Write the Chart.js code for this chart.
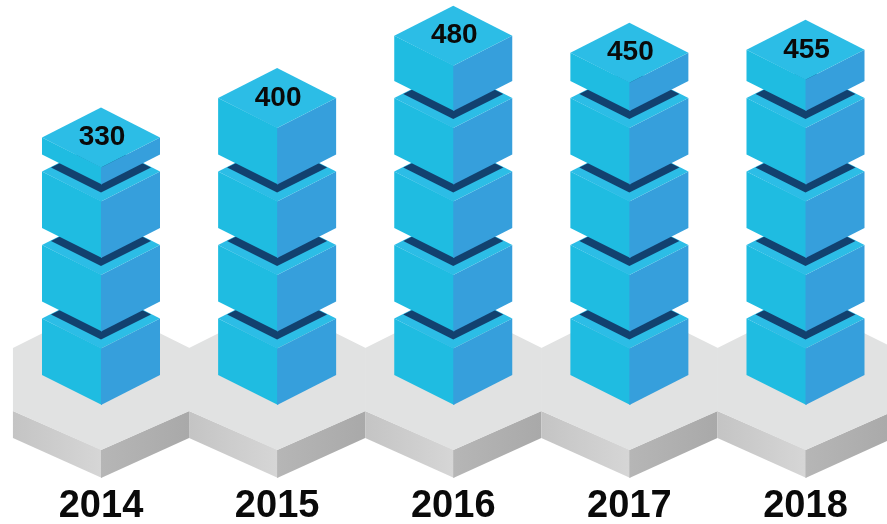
<!DOCTYPE html>
<html>
<head>
<meta charset="utf-8">
<title>Isometric towers</title>
<script src="https://cdn.jsdelivr.net/npm/chart.js@4"></script>
<style>
  html, body { margin: 0; padding: 0; background: #fff; overflow: hidden; }
  #towerChart { display: block; }
</style>
</head>
<body>
<canvas id="towerChart" width="887" height="524"></canvas>
<script>
var years = ['2014', '2015', '2016', '2017', '2018'];
var totals = [330, 400, 480, 450, 455];
var unitsPerBlock = 100;

var labelFont = '"Liberation Sans", sans-serif';

function poly(ctx, pts, fill) {
    ctx.beginPath();
    pts.forEach(function (p, i) {
        if (i === 0) ctx.moveTo(p[0], p[1]); else ctx.lineTo(p[0], p[1]);
    });
    ctx.closePath();
    ctx.fillStyle = fill;
    ctx.fill();
}

// grey hexagonal plate under one tower
function drawPlate(ctx, x, groundY, halfW) {
    var topY = groundY - 27;
    var rise = 30, thick = 28;
    var front = groundY + 45;

    var left = ctx.createLinearGradient(x - halfW, 0, x, 0);
    left.addColorStop(0, '#c4c4c4');
    left.addColorStop(1, '#d6d6d6');
    poly(ctx, [[x - halfW, topY + rise + 3], [x + 1, front], [x + 1, front + thick], [x - halfW, topY + rise + 30]], left);

    var right = ctx.createLinearGradient(x, 0, x + halfW, 0);
    right.addColorStop(0, '#b6b6b6');
    right.addColorStop(1, '#a9a9a9');
    poly(ctx, [[x + halfW, topY + rise + 3], [x, front], [x, front + thick], [x + halfW, topY + rise + 30]], right);

    poly(ctx, [[x - halfW, topY - rise], [x, topY - rise - 44], [x + halfW + 0.5, topY - rise],
               [x + halfW + 0.5, topY + rise + 3], [x, front], [x - halfW, topY + rise + 3]], '#e1e2e2');
}

// one block: tipY is the lowest front corner, side the height of its walls
function drawBlock(ctx, x, tipY, side, covered) {
    var halfW = 59, halfH = 30;
    var frontTop = tipY - side;
    var midY = frontTop - halfH;

    poly(ctx, [[x - halfW, tipY - halfH], [x + 1, tipY], [x + 1, frontTop], [x - halfW, midY]], '#1fbce1');
    poly(ctx, [[x + halfW, tipY - halfH], [x, tipY], [x, frontTop], [x + halfW, midY]], '#369fdc');
    poly(ctx, [[x - halfW, midY], [x, midY - halfH], [x + halfW, midY], [x, frontTop]], '#2cbde6');

    // shadow dropped by the next block on this one's top face
    if (covered) {
        poly(ctx, [[x - 50, midY - 4], [x, midY - 29], [x + 50, midY - 4], [x, midY + 21]], '#12416f');
    }
    return midY;
}

var isoTowers = {
    id: 'isoTowers',
    beforeDatasetsDraw: function (chart) {
        var ctx = chart.ctx;
        var yScale = chart.scales.y;
        var xScale = chart.scales.x;
        var points = chart.getDatasetMeta(0).data;
        var groundY = yScale.getPixelForValue(0);
        var plateHalf = (xScale.getPixelForValue(1) - xScale.getPixelForValue(0)) / 2;
        var wallPerUnit = (groundY - yScale.getPixelForValue(1)) * 0.77;

        ctx.save();
        points.forEach(function (bar) {
            drawPlate(ctx, bar.x, groundY, plateHalf);
        });

        points.forEach(function (bar, i) {
            var level = 0;
            var midY = 0;
            while (level < totals[i]) {
                var amount = Math.min(unitsPerBlock, totals[i] - level);
                var covered = level + amount < totals[i];
                midY = drawBlock(ctx, bar.x, yScale.getPixelForValue(level), amount * wallPerUnit, covered);
                level += amount;
            }
            ctx.fillStyle = '#0a0a0a';
            ctx.font = 'bold 28px ' + labelFont;
            ctx.textAlign = 'center';
            ctx.textBaseline = 'middle';
            ctx.fillText(String(totals[i]), bar.x + 1, midY);
        });
        ctx.restore();
    }
};

var towerChart = new Chart(document.getElementById('towerChart').getContext('2d'), {
    type: 'bar',
    data: {
        labels: years,
        datasets: [{
            data: totals,
            backgroundColor: 'transparent',
            borderWidth: 0
        }]
    },
    options: {
        responsive: false,
        animation: false,
        layout: { padding: { left: 101, right: 81.5, top: 37.5, bottom: 0 } },
        plugins: {
            legend: { display: false },
            tooltip: { enabled: false },
            title: { display: false }
        },
        scales: {
            x: {
                offset: false,
                // long invisible tick marks push the year labels below the plates
                grid: {
                    offset: false,
                    drawOnChartArea: false,
                    color: 'transparent',
                    tickColor: 'transparent',
                    tickLength: 77
                },
                border: { display: false },
                afterFit: function (scale) { scale.height = 119; },
                ticks: {
                    color: '#0a0a0a',
                    padding: 2,
                    maxRotation: 0,
                    font: { family: labelFont, size: 38, weight: 'bold' }
                }
            },
            y: {
                display: false,
                min: 0,
                max: 500
            }
        }
    },
    plugins: [isoTowers]
});
</script>
</body>
</html>
